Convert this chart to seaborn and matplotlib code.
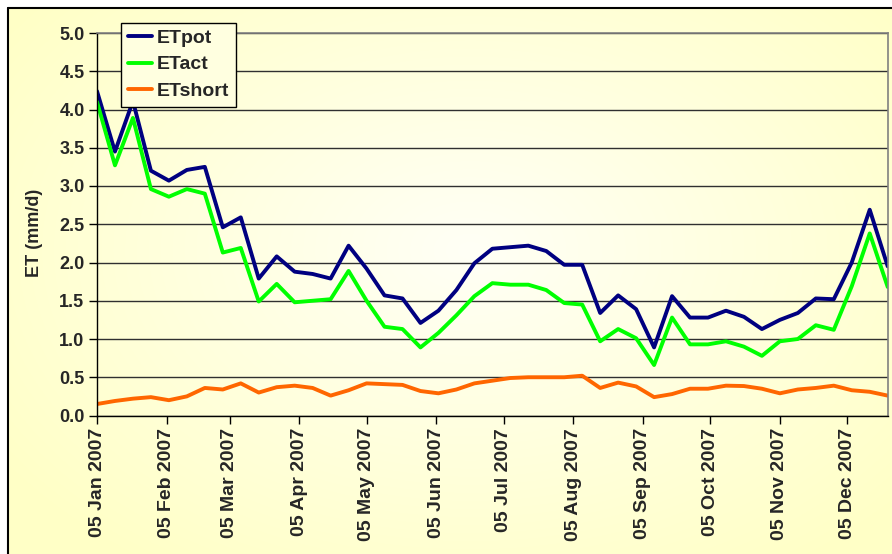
import numpy as np
import pandas as pd
import matplotlib.pyplot as plt
import matplotlib.dates as mdates
from matplotlib.patches import Rectangle
import seaborn as sns

# 8-day composites starting 05 Jan 2007
dates = pd.date_range('2007-01-05', periods=45, freq='8D')

et_pot = [4.24, 3.45, 4.11, 3.20, 3.07, 3.21, 3.25, 2.46, 2.59, 1.79,
          2.08, 1.88, 1.85, 1.79, 2.22, 1.92, 1.57, 1.53, 1.21, 1.37,
          1.64, 1.99, 2.18, 2.20, 2.22, 2.15, 1.97, 1.97, 1.34, 1.57,
          1.39, 0.89, 1.56, 1.28, 1.28, 1.37, 1.29, 1.13, 1.25, 1.34,
          1.53, 1.52, 2.00, 2.69, 1.95]
et_act = [4.10, 3.27, 3.89, 2.96, 2.86, 2.96, 2.90, 2.13, 2.19, 1.49,
          1.72, 1.48, 1.50, 1.52, 1.89, 1.50, 1.16, 1.13, 0.89, 1.08,
          1.31, 1.56, 1.73, 1.71, 1.71, 1.64, 1.47, 1.45, 0.97, 1.13,
          1.01, 0.66, 1.28, 0.93, 0.93, 0.97, 0.90, 0.78, 0.97, 1.00,
          1.18, 1.12, 1.69, 2.38, 1.68]
et_short = [0.15, 0.19, 0.22, 0.24, 0.20, 0.25, 0.36, 0.34, 0.42, 0.30,
            0.37, 0.39, 0.36, 0.26, 0.33, 0.42, 0.41, 0.40, 0.32, 0.29,
            0.34, 0.42, 0.455, 0.49, 0.50, 0.50, 0.50, 0.52, 0.36, 0.43,
            0.38, 0.24, 0.28, 0.35, 0.35, 0.39, 0.385, 0.35, 0.29, 0.34,
            0.36, 0.39, 0.33, 0.31, 0.26]

series_names = ['ETpot', 'ETact', 'ETshort']
series_colors = ['#000080', '#00FF00', '#FF6600']
y_ticks = [0.0, 0.5, 1.0, 1.5, 2.0, 2.5, 3.0, 3.5, 4.0, 4.5, 5.0]

df = pd.DataFrame({
    'date': np.tile(dates, 3),
    'series': np.repeat(series_names, len(dates)),
    'ET': et_pot + et_act + et_short,
})

sns.set_theme(style='white')
plt.rcParams['font.family'] = ['Liberation Sans', 'DejaVu Sans']
plt.rcParams['font.weight'] = 'bold'

W, H = 892, 554
fig = plt.figure(figsize=(W / 100, H / 100), dpi=100, facecolor='white')

# pale yellow radial gradient behind the chart
bg = fig.add_axes([0, 0, 1, 1], zorder=-10)
yy, xx = np.mgrid[0:H, 0:W]
r = np.clip(np.sqrt(((xx - 470) / 560) ** 2 + ((yy - 250) / 380) ** 2), 0, 1)
c_in = np.array([1.0, 1.0, 0.965])
c_out = np.array([1.0, 1.0, 0.78])
bg.imshow(c_in + (c_out - c_in) * r[..., None], extent=[0, W, H, 0], aspect='auto')
bg.add_patch(Rectangle((0, 0), W, 7, color='white'))
bg.add_patch(Rectangle((0, 0), 7, H, color='white'))
bg.plot([7.5, 7.5], [7.5, H], color='black', lw=1.5)
bg.plot([7.5, W], [7.5, 7.5], color='black', lw=1.5)
bg.set_xlim(0, W)
bg.set_ylim(H, 0)
bg.axis('off')

ax = fig.add_axes([97 / W, 1 - 415.5 / H, (887.7 - 97) / W, (415.5 - 33) / H])
ax.set_facecolor('none')

sns.lineplot(data=df, x='date', y='ET', hue='series',
             palette=dict(zip(series_names, series_colors)),
             linewidth=2.8, sort=False, ax=ax)

ax.set_ylim(0, 5)
ax.set_yticks(y_ticks)
ax.set_yticklabels([f'{t:.1f}' for t in y_ticks], fontsize=13, fontweight='bold')
ax.set_xlim(dates[0], dates[-1])
ax.xaxis.set_major_locator(mdates.MonthLocator(bymonthday=5))
ax.xaxis.set_major_formatter(mdates.DateFormatter('%d %b %Y'))
plt.setp(ax.get_xticklabels(), rotation=90, fontsize=14, fontweight='bold')

ax.grid(axis='y', color='#303030', linewidth=1)
ax.grid(axis='x', visible=False)
ax.tick_params(direction='out', length=6, width=1, color='black',
               bottom=True, left=True, pad=3)

for side in ['left', 'bottom']:
    ax.spines[side].set_color('black')
    ax.spines[side].set_linewidth(1)
for side in ['top', 'right']:
    ax.spines[side].set_color('#808080')
    ax.spines[side].set_linewidth(1.2)

ax.set_xlabel('')
ax.set_ylabel('ET (mm/d)', fontsize=13, fontweight='bold')
ax.yaxis.set_label_coords(-0.068, 0.477)

handles, labels = ax.get_legend_handles_labels()
ax.legend(handles, labels, loc='upper left',
          bbox_to_anchor=(120.7 / W, 1 - 22.7 / H), bbox_transform=fig.transFigure,
          frameon=True, fancybox=False, edgecolor='black', facecolor='#FFFFE0',
          framealpha=1, prop={'weight': 'bold', 'size': 14},
          handlelength=1.25, handletextpad=0.25, borderaxespad=0,
          labelspacing=0.45, borderpad=0.35)
ax.get_legend().get_frame().set_linewidth(1)

fig.savefig('out.png', dpi=100)
